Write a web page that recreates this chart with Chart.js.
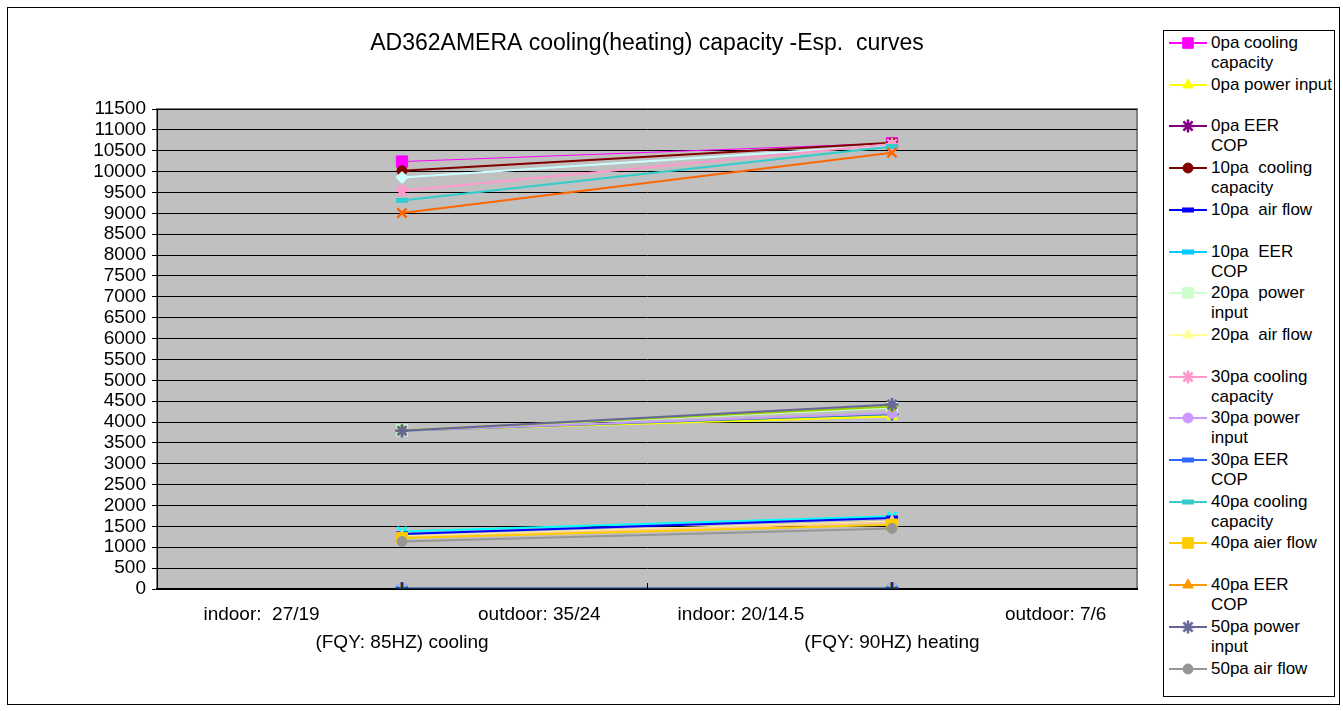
<!DOCTYPE html>
<html>
<head>
<meta charset="utf-8">
<script src="https://cdn.jsdelivr.net/npm/chart.js"></script>
<style>
  html, body { margin: 0; padding: 0; background: #fff; }
  body { width: 1343px; height: 711px; position: relative; overflow: hidden;
         font-family: "Liberation Sans", Arial, sans-serif; }
  #frame { position: absolute; left: 7px; top: 7px; width: 1333px; height: 698px;
           border: 1px solid #000; box-sizing: border-box; }
  #plot { position: absolute; left: 0; top: 0; width: 1150px; height: 711px; }
  #legend { position: absolute; left: 1163px; top: 30px; width: 172px; height: 667px;
            border: 1px solid #000; box-sizing: border-box; background: #fff; }
  .entry { position: absolute; left: 0; width: 170px; height: 42px; }
  .entry canvas { position: absolute; left: 5px; top: 1px; }
  .entry span { position: absolute; left: 47px; top: 1px; font-size: 17px; line-height: 20px;
                white-space: pre; color: #000; }
</style>
</head>
<body>
<div id="frame"></div>
<div id="plot"><canvas id="chart"></canvas></div>
<div id="legend"></div>
<script>
const TITLE = "AD362AMERA cooling(heating) capacity -Esp.  curves";

const CATEGORIES = [
  ["indoor:  27/19" + " ".repeat(30) + "outdoor: 35/24", "(FQY: 85HZ) cooling"],
  ["indoor: 20/14.5" + " ".repeat(38) + "outdoor: 7/6", "(FQY: 90HZ) heating"],
];

const Y_MIN = 0;
const Y_MAX = 11500;
const Y_STEP = 500;

const PRESSURES = ["0pa", "10pa", "20pa", "30pa", "40pa", "50pa"];

// [cooling point, heating point] per pressure
const COOLING_CAPACITY = [
  [10240, 10680], [10020, 10690], [9860, 10640],
  [9540, 10660], [9310, 10600], [9010, 10450],
];
const POWER_INPUT = [
  [3800, 4130], [3790, 4190], [3800, 4340],
  [3790, 4210], [3800, 4370], [3790, 4420],
];
const AIR_FLOW = [
  [1380, 1740], [1320, 1700], [1260, 1620],
  [1240, 1600], [1220, 1540], [1140, 1450],
];
const EER_COP = [
  [3.3, 3.7], [3.2, 3.6], [3.2, 3.5],
  [3.1, 3.5], [3.1, 3.4], [3.0, 3.4],
];

// series names as they appear in the workbook (legend wraps where \n is)
const SERIES_NAMES = [
  "0pa cooling\ncapacity", "0pa power input", "0pa air flow", "0pa EER\nCOP",
  "10pa  cooling\ncapacity", "10pa  power input", "10pa  air flow", "10pa  EER\nCOP",
  "20pa  cooling capacity", "20pa  power\ninput", "20pa  air flow", "20pa  EER COP",
  "30pa cooling\ncapacity", "30pa power\ninput", "30pa air flow", "30pa EER\nCOP",
  "40pa cooling\ncapacity", "40pa power input", "40pa aier flow", "40pa EER\nCOP",
  "50pa cooling capacity", "50pa power\ninput", "50pa air flow", "50pa EER COP",
];
// entries that were removed from the legend in the original
const NOT_IN_LEGEND = [2, 5, 8, 11, 14, 17, 20, 23];

const COLORS = [
  "#FF00FF", "#FFFF00", "#00FFFF", "#800080",
  "#800000", "#008080", "#0000FF", "#00CCFF",
  "#CCFFFF", "#CCFFCC", "#FFFF99", "#99CCFF",
  "#FF99CC", "#CC99FF", "#FFCC99", "#3366FF",
  "#33CCCC", "#99CC00", "#FFCC00", "#FF9900",
  "#FF6600", "#666699", "#969696", "#003366",
];
const MARKERS = [
  "rect", "triangle", "crossRot", "star",
  "circle", "cross", "line", "line",
  "rectRot", "rect", "triangle", "crossRot",
  "star", "circle", "cross", "line",
  "line", "rectRot", "rect", "triangle",
  "crossRot", "star", "circle", "cross",
];

function markerStyle(shape) {
  switch (shape) {
    case "rect":     return { radius: 8, border: 1 };
    case "rectRot":  return { radius: 6, border: 1 };
    case "triangle": return { radius: 6, border: 1 };
    case "circle":   return { radius: 5, border: 1 };
    case "line":     return { radius: 6, border: 5 };
    default:         return { radius: 6.5, border: 2.5 };
  }
}

function buildDatasets() {
  const out = [];
  PRESSURES.forEach((p, i) => {
    [COOLING_CAPACITY[i], POWER_INPUT[i], AIR_FLOW[i], EER_COP[i]].forEach((values) => {
      const idx = out.length;
      const m = markerStyle(MARKERS[idx]);
      out.push({
        label: SERIES_NAMES[idx].replace("\n", " "),
        data: values,
        borderColor: COLORS[idx],
        backgroundColor: COLORS[idx],
        borderWidth: idx === 0 ? 1 : 2,
        pointStyle: MARKERS[idx],
        pointRadius: m.radius,
        pointBorderWidth: m.border,
        pointBackgroundColor: COLORS[idx],
        pointBorderColor: COLORS[idx],
        tension: 0,
        order: 100 - idx,
      });
    });
  });
  return out;
}

const plotBackground = {
  id: "plotBackground",
  beforeDraw(chart) {
    const { ctx, chartArea: a } = chart;
    ctx.save();
    ctx.fillStyle = "#C0C0C0";
    ctx.fillRect(a.left, a.top, a.right - a.left, a.bottom - a.top);
    ctx.strokeStyle = "#808080";
    ctx.lineWidth = 2;
    ctx.strokeRect(a.left, a.top, a.right - a.left, a.bottom - a.top);
    ctx.restore();
  },
  afterDraw(chart) {
    // small category divider tick on the x axis, like the original
    const { ctx, chartArea: a, scales } = chart;
    const x = Math.round((scales.x.getPixelForTick(0) + scales.x.getPixelForTick(1)) / 2) + 0.5;
    ctx.save();
    ctx.strokeStyle = "#000";
    ctx.lineWidth = 1;
    ctx.beginPath();
    ctx.moveTo(x, a.bottom);
    ctx.lineTo(x, a.bottom - 6);
    ctx.stroke();
    ctx.restore();
  },
};

const chart = new Chart(document.getElementById("chart"), {
  type: "line",
  data: { labels: CATEGORIES, datasets: buildDatasets() },
  plugins: [plotBackground],
  options: {
    responsive: true,
    maintainAspectRatio: false,
    animation: false,
    layout: { padding: { left: 0, right: 13, top: 0, bottom: 0 } },
    plugins: {
      legend: { display: false },
      tooltip: { enabled: false },
      title: {
        display: true,
        text: TITLE,
        fullSize: false,
        color: "#000",
        font: { family: "'Liberation Sans', Arial", size: 23, weight: "normal", lineHeight: 1.2 },
        padding: { top: 30, bottom: 51.4 },
      },
    },
    scales: {
      x: {
        offset: true,
        grid: { display: true, offset: true, drawOnChartArea: false, drawTicks: false },
        border: { display: true, color: "#000", width: 2 },
        ticks: {
          color: "#000",
          autoSkip: false,
          maxRotation: 0,
          padding: 12,
          font: { family: "'Liberation Sans', Arial", size: 19, lineHeight: 1.45 },
        },
        afterFit(scale) { scale.height = 122; },
      },
      y: {
        min: Y_MIN,
        max: Y_MAX,
        ticks: {
          stepSize: Y_STEP,
          maxTicksLimit: 40,
          autoSkip: false,
          color: "#000",
          padding: 6,
          font: { family: "'Liberation Sans', Arial", size: 19 },
          callback: (v) => String(v),
        },
        grid: { color: "#000", lineWidth: 1, drawTicks: true, tickLength: 5 },
        border: { display: true, color: "#000", width: 1 },
        afterFit(scale) { scale.width = 157; },
      },
    },
  },
});

function drawSample(canvas, ds) {
  const ctx = canvas.getContext("2d");
  const h = canvas.height / 2;
  ctx.strokeStyle = ds.borderColor;
  ctx.lineWidth = 2;
  ctx.beginPath();
  ctx.moveTo(0, h);
  ctx.lineTo(canvas.width, h);
  ctx.stroke();
  ctx.fillStyle = ds.pointBackgroundColor;
  ctx.strokeStyle = ds.pointBorderColor;
  ctx.lineWidth = ds.pointBorderWidth;
  Chart.helpers.drawPoint(ctx, {
    pointStyle: ds.pointStyle,
    radius: ds.pointStyle === "rect" ? 7.5 : ds.pointRadius,
    borderWidth: ds.pointBorderWidth,
    rotation: 0,
  }, canvas.width / 2, h);
}

function renderLegend() {
  const box = document.getElementById("legend");
  let row = 0;
  chart.data.datasets.forEach((ds, i) => {
    if (NOT_IN_LEGEND.includes(i)) return;
    const el = document.createElement("div");
    el.className = "entry";
    el.style.top = (1 + row * 41.7) + "px";
    const c = document.createElement("canvas");
    c.width = 38;
    c.height = 20;
    const label = document.createElement("span");
    label.textContent = SERIES_NAMES[i];
    el.appendChild(c);
    el.appendChild(label);
    box.appendChild(el);
    drawSample(c, ds);
    row++;
  });
}

renderLegend();
</script>
</body>
</html>
